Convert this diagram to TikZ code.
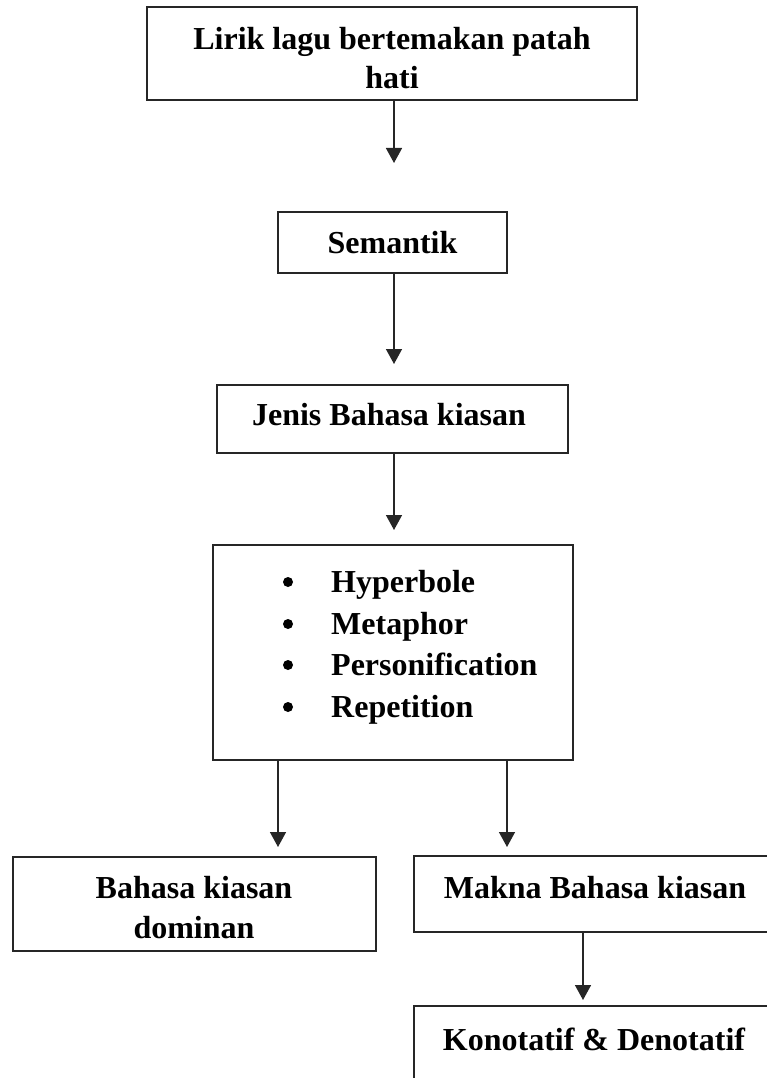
\documentclass[tikz,border=0pt]{standalone}
\usepackage{fontspec}
\setmainfont{Liberation Serif}
\usetikzlibrary{arrows.meta}
\begin{document}
\begin{tikzpicture}[x=1pt,y=-1pt,
  box/.style={draw=black!85, line width=1.6pt, inner sep=0pt, rectangle},
  lbl/.style={anchor=base, inner sep=0pt, font=\fontsize{32}{40}\selectfont\bfseries},
  item/.style={lbl, anchor=base west},
  arr/.style={draw=black!85, line width=1.5pt, -{Triangle[length=15pt,width=16pt]}},
  dotmark/.style={circle, fill=black, inner sep=0pt, minimum size=10pt}]
\useasboundingbox (0,0) rectangle (767,1078);
\clip (0,0) rectangle (767,1078);
% boxes
\node[box, minimum width=490pt, minimum height=93pt] (top) at (392,53.5) {};
\node[box, minimum width=229pt, minimum height=61pt] (sem) at (392.5,242.5) {};
\node[box, minimum width=351pt, minimum height=68pt] (jen) at (392.5,419) {};
\node[box, minimum width=360pt, minimum height=215pt] (list) at (393,652.5) {};
\node[box, minimum width=363pt, minimum height=94pt] (dom) at (194.5,904) {};
\node[box, minimum width=362pt, minimum height=76pt] (mak) at (595,894) {};
\node[box, minimum width=362pt, minimum height=114pt] (kon) at (595,1063) {};
% texts
\node[lbl] (t1a) at (392,50) {Lirik lagu bertemakan patah};
\node[lbl] (t1b) at (392,89) {hati};
\node[lbl] (t2) at (392.5,253) {Semantik};
\node[lbl] (t3) at (389,425) {Jenis Bahasa kiasan};
\node[dotmark] (b1) at (288,582) {};
\node[dotmark] (b2) at (288,624) {};
\node[dotmark] (b3) at (288,665) {};
\node[dotmark] (b4) at (288,707) {};
\node[item] (i1) at (331,592) {Hyperbole};
\node[item] (i2) at (331,634) {Metaphor};
\node[item] (i3) at (331,675) {Personification};
\node[item] (i4) at (331,717) {Repetition};
\node[lbl] (t5a) at (194,898) {Bahasa kiasan};
\node[lbl] (t5b) at (194,938) {dominan};
\node[lbl] (t6) at (595,898) {Makna Bahasa kiasan};
\node[lbl] (t7) at (594,1050) {Konotatif \& Denotatif};
% arrow end points
\coordinate (e1) at (394,163);
\coordinate (e2) at (394,364);
\coordinate (e3) at (394,530);
\coordinate (e4) at (278,847);
\coordinate (e5) at (507,847);
\coordinate (e6) at (583,1000);
% connectors
\draw[arr] (top.south -| e1) -- (e1);
\draw[arr] (sem.south -| e2) -- (e2);
\draw[arr] (jen.south -| e3) -- (e3);
\draw[arr] (list.south -| e4) -- (e4);
\draw[arr] (list.south -| e5) -- (e5);
\draw[arr] (mak.south -| e6) -- (e6);
\end{tikzpicture}
\end{document}
